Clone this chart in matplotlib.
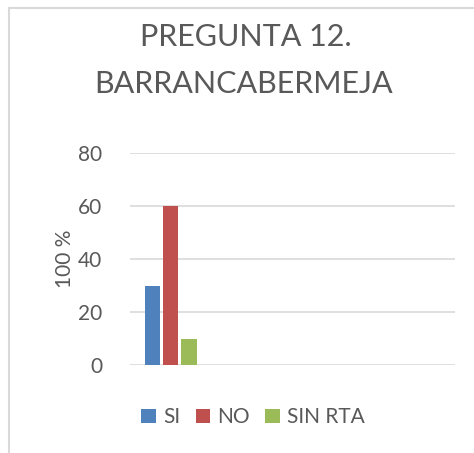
import matplotlib
matplotlib.use("Agg")
import matplotlib.pyplot as plt
from matplotlib.patches import Patch, Rectangle

# Respuestas a la pregunta 12 (Barrancabermeja), en %
series = ["SI", "NO", "SIN RTA"]
valores = [30, 60, 10]
colores = ["#4F81BD", "#C0504D", "#9BBB59"]
y_ticks = [0, 20, 40, 60, 80]
n_categorias = 4          # el eje reserva 4 grupos, solo el primero tiene datos

GRIS_TEXTO = "#595959"
GRIS_LINEA = "#D9D9D9"

plt.rcParams["font.family"] = ["Lato", "DejaVu Sans"]

W, H = 474, 453
fig = plt.figure(figsize=(W / 100, H / 100), dpi=100)

# marco del área del gráfico
fig.add_artist(Rectangle((8.5 / W, -0.1), 2.0, (H - 8.5) / H + 0.1,
                         transform=fig.transFigure, fill=False,
                         edgecolor=GRIS_LINEA, lw=1.5))

ax = fig.add_axes([130 / W, (H - 365) / H, 325 / W, (365 - 153) / H])

ancho = 0.19
paso = 0.225
for i, (nombre, v, c) in enumerate(zip(series, valores, colores)):
    ax.bar(0 + (i - 1) * paso, v, width=ancho, color=c, label=nombre, zorder=3)

ax.set_xlim(-0.5, n_categorias - 0.5)
ax.set_ylim(y_ticks[0], y_ticks[-1])
ax.set_yticks(y_ticks)
ax.set_xticks([])
ax.grid(axis="y", color=GRIS_LINEA, lw=1.2, zorder=0)
for s in ax.spines.values():
    s.set_visible(False)
ax.tick_params(axis="y", length=0, pad=20, labelsize=15, labelcolor=GRIS_TEXTO)
ax.set_ylabel("100 %", fontsize=15, color=GRIS_TEXTO, labelpad=2)

fig.text(246 / W, 1 - 37 / H, "PREGUNTA 12.", ha="center", va="center",
         fontsize=22, color=GRIS_TEXTO)
fig.text(244 / W, 1 - 84 / H, "BARRANCABERMEJA", ha="center", va="center",
         fontsize=22, color=GRIS_TEXTO)

handles = [Patch(facecolor=c, label=n) for n, c in zip(series, colores)]
fig.legend(handles=handles, loc="center", bbox_to_anchor=(253 / W, 1 - 417 / H),
           ncol=3, frameon=False, fontsize=15, labelcolor=GRIS_TEXTO,
           handlelength=0.68, handleheight=0.68, handletextpad=0.35,
           columnspacing=0.75)

fig.savefig("out.png", dpi=100)
